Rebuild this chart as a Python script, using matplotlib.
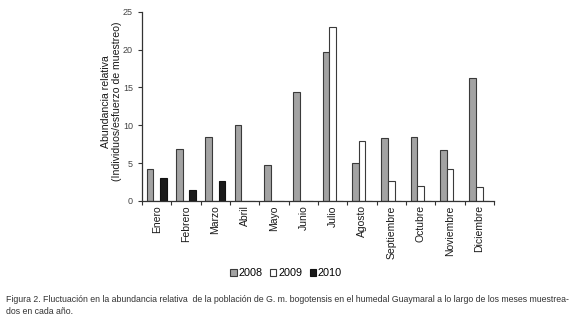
import matplotlib.pyplot as plt
import numpy as np

meses = ['Enero', 'Febrero', 'Marzo', 'Abril', 'Mayo', 'Junio', 'Julio',
         'Agosto', 'Septiembre', 'Octubre', 'Noviembre', 'Diciembre']
v2008 = [4.2, 6.9, 8.4, 10.0, 4.8, 14.4, 19.7, 5.0, 8.3, 8.4, 6.8, 16.3]
v2009 = [0, 0, 0, 0, 0, 0, 23.0, 7.9, 2.6, 2.0, 4.2, 1.9]
v2010 = [3.0, 1.5, 2.6, 0, 0, 0, 0, 0, 0, 0, 0, 0]

caption_lines = ["Figura 2. Fluctuación en la abundancia relativa  de la población de G. m. bogotensis "
                 "en el humedal Guaymaral a lo largo de los meses muestrea-",
                 "dos en cada año."]

plt.rcParams['font.family'] = ['Liberation Sans', 'DejaVu Sans']

fig = plt.figure(figsize=(5.8, 3.22), dpi=100)
ax = fig.add_axes([0.2448, 0.3758, 0.6069, 0.5879])

x = np.arange(len(meses))
w = 0.23
edge = '#3a3a3a'
ax.bar(x - w, v2008, w, color='#a3a3a3', edgecolor=edge, linewidth=0.8, label='2008')
ax.bar(x, v2009, w, color='white', edgecolor=edge, linewidth=0.8, label='2009')
ax.bar(x + w, v2010, w, color='#1a1a1a', edgecolor='#111111', linewidth=0.8, label='2010')

ax.set_xlim(-0.5, len(meses) - 0.5)
ax.set_ylim(0, 25)
ax.set_yticks([0, 5, 10, 15, 20, 25])
ax.tick_params(axis='y', labelsize=6.5, labelcolor='#444444', length=3, width=0.8, color='#333333')

# month labels at group centres, tick marks at group boundaries
ax.set_xticks(x)
ax.set_xticklabels(meses, rotation=90, fontsize=7.5, color='#1a1a1a')
ax.tick_params(axis='x', which='major', length=0, pad=3)
ax.set_xticks(np.arange(len(meses) + 1) - 0.5, minor=True)
ax.tick_params(axis='x', which='minor', length=3, width=0.8, color='#333333')

for s in ['top', 'right']:
    ax.spines[s].set_visible(False)
for s in ['left', 'bottom']:
    ax.spines[s].set_color('#333333')
    ax.spines[s].set_linewidth(0.9)

fig.text(111.5 / 580, 1 - 101.7 / 322, 'Abundancia relativa\n(Individuos/esfuerzo de muestreo)',
         rotation=90, ha='center', va='center', fontsize=7.6, color='#1a1a1a', linespacing=1.15)

fig.legend(loc='center', bbox_to_anchor=(286 / 580, 1 - 273 / 322), ncol=3, frameon=False,
           fontsize=7.8, handlelength=0.6, handleheight=0.6, handletextpad=0.15, columnspacing=0.7)

for i, line in enumerate(caption_lines):
    fig.text(6 / 580, 1 - (300 + 11.7 * i) / 322, line, fontsize=6.28, va='center', ha='left',
             color='#333333')

fig.savefig('out.png', dpi=100)
